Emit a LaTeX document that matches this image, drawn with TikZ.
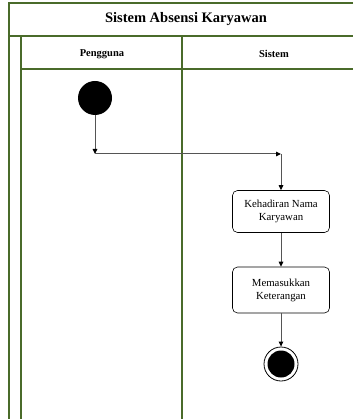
\documentclass[tikz,border=0pt]{standalone}
\usepackage{fontspec}
\setmainfont{Liberation Serif}
\usetikzlibrary{arrows.meta}
\definecolor{lane}{HTML}{4A6B2A}
\definecolor{conn}{HTML}{555555}
\begin{document}
\begin{tikzpicture}[x=1pt,y=-1pt,
  frame/.style={draw=lane, line width=1.2pt},
  act/.style={draw, rounded corners=5pt, minimum width=97pt, minimum height=42pt, align=center, inner sep=2pt, font=\fontsize{10.8}{13}\selectfont, line width=0.6pt},
  flow/.style={draw=conn, line width=1pt, -{Triangle[length=5pt,width=4.5pt,color=black]}},
  title/.style={font=\bfseries\fontsize{14.5}{16}\selectfont},
  lanehead/.style={font=\bfseries\fontsize{10.5}{12}\selectfont}]
\useasboundingbox (0,0) rectangle (353,419);
% frame
\draw[frame] (353,3) -- (9,3) -- (9,419);
\draw[frame] (9,36) -- (353,36);
\draw[frame] (21,36) -- (21,419);
\draw[frame] (21,69) -- (353,69);
\draw[frame] (182,36) -- (182,419);
\node[title] (t) at (186,19) {Sistem Absensi Karyawan};
\node[lanehead] (h1) at (102,54) {Pengguna};
\node[lanehead] (h2) at (274,54) {Sistem};
% activity
\node[circle, fill=black, minimum size=34pt, inner sep=0pt] (start) at (95,98) {};
\coordinate (j1) at (95,154);
\coordinate (j2) at (281,154);
\node[act] (a1) at (281,211.5) {Kehadiran Nama\\Karyawan};
\node[act, minimum height=46pt] (a2) at (281,290) {Memasukkan\\Keterangan};
\node[circle, draw, line width=0.8pt, minimum size=34pt, inner sep=0pt] (end) at (281,364) {};
\node[circle, fill=black, minimum size=27pt, inner sep=0pt] (endin) at (end) {};
\draw[flow] (start) -- (j1);
\draw[flow] (j1) -- (j2);
\draw[flow] (j2) -- (a1);
\draw[flow] (a1) -- (a2);
\draw[flow] (a2) -- (end);
\end{tikzpicture}
\end{document}
